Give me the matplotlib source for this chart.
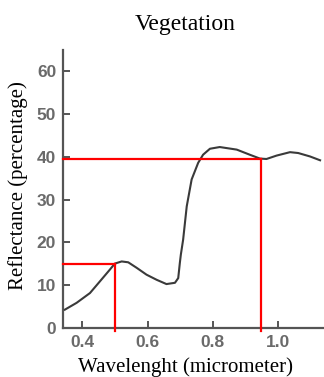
import matplotlib
matplotlib.use('Agg')
import matplotlib.pyplot as plt

wavelength = [0.347, 0.383, 0.424, 0.454, 0.485, 0.500, 0.521, 0.541, 0.567, 0.597,
              0.628, 0.658, 0.684, 0.694, 0.699, 0.702, 0.709, 0.720, 0.735, 0.755,
              0.770, 0.791, 0.821, 0.873, 0.913, 0.944, 0.964, 0.995, 1.036, 1.061,
              1.097, 1.128]
reflectance = [4.2, 5.8, 8.1, 10.8, 13.6, 15.0, 15.5, 15.3, 14.0, 12.4,
               11.2, 10.2, 10.5, 11.6, 15.2, 17.1, 20.6, 28.4, 34.7, 38.6,
               40.5, 41.9, 42.3, 41.7, 40.5, 39.6, 39.5, 40.3, 41.1, 40.9,
               40.1, 39.2]

# Marker readings (red guide lines)
mark_x = [0.50, 0.946]
mark_y = [15.0, 39.5]

x_ticks = [0.4, 0.6, 0.8, 1.0]
x_ticklabels = ['0.4', '0.6', '0.8', '1.0']
y_ticks = [0, 10, 20, 30, 40, 50, 60]

fig = plt.figure(figsize=(3.24, 3.77), dpi=100)
ax = fig.add_axes([0.195, 0.131, 0.805, 0.736])

ax.plot(wavelength, reflectance, color='#3a3a3a', linewidth=1.5, zorder=3)

x0, x1 = 0.342, 1.14
for mx, my in zip(mark_x, mark_y):
    ax.plot([x0, mx], [my, my], color='red', linewidth=1.6, zorder=4, clip_on=False)
    ax.plot([mx, mx], [-0.8, my], color='red', linewidth=1.6, zorder=4, clip_on=False)

ax.set_xlim(x0, x1)
ax.set_ylim(0, 65)
ax.set_xticks(x_ticks)
ax.set_xticklabels(x_ticklabels)
ax.set_yticks(y_ticks)

for s in ['top', 'right']:
    ax.spines[s].set_visible(False)
for s in ['left', 'bottom']:
    ax.spines[s].set_color('#555555')
    ax.spines[s].set_linewidth(1.6)

ax.tick_params(direction='in', length=5, width=1.4, color='#555555',
               labelcolor='#6a6a6a', labelsize=12.5, pad=5)
for lab in ax.get_xticklabels() + ax.get_yticklabels():
    lab.set_family('Liberation Sans')
    lab.set_weight('bold')

fig.text(0.571, 0.920, 'Vegetation', family='Liberation Serif', fontsize=17,
         ha='center', va='baseline')
fig.text(0.574, 0.014, 'Wavelenght (micrometer)', family='Liberation Serif',
         fontsize=15, ha='center', va='baseline')
fig.text(0.056, 0.507, 'Reflectance (percentage)', family='Liberation Serif',
         fontsize=15, ha='center', va='center', rotation=90)

plt.savefig('out.png', dpi=100)
